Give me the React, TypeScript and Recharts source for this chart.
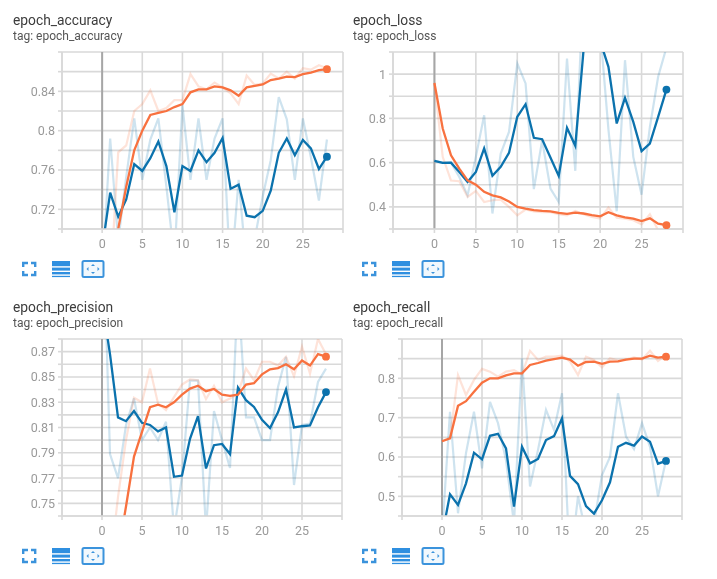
import React from "react";
import { LineChart, Line, XAxis, YAxis, CartesianGrid, ReferenceLine } from "recharts";

const epochs = [0,1,2,3,4,5,6,7,8,9,10,11,12,13,14,15,16,17,18,19,20,21,22,23,24,25,26,27,28];
const xTicks = [-5,0,5,10,15,20,25,30];
const BLUE = "#0b72ad";
const ORANGE = "#f8713f";

const accTrainSmooth = [0.62,0.66,0.70,0.743,0.78,0.80,0.816,0.818,0.82,0.824,0.827,0.839,0.842,0.842,0.845,0.844,0.841,0.8355,0.844,0.8455,0.847,0.8515,0.853,0.855,0.8545,0.8575,0.859,0.8615,0.8625];
const accTrainRaw = [0.62,0.64,0.778,0.785,0.82,0.827,0.841,0.82,0.823,0.831,0.831,0.8575,0.845,0.842,0.849,0.844,0.838,0.827,0.856,0.8465,0.848,0.858,0.853,0.86,0.853,0.8635,0.862,0.8665,0.8635];
const accValSmooth = [0.68,0.737,0.7125,0.73,0.766,0.759,0.772,0.789,0.764,0.717,0.764,0.759,0.78,0.768,0.7775,0.7925,0.741,0.745,0.7135,0.712,0.7185,0.739,0.7775,0.792,0.775,0.7905,0.782,0.761,0.7735];
const accValRaw = [0.65,0.792,0.688,0.753,0.8125,0.75,0.791,0.8125,0.743,0.67,0.826,0.75,0.8125,0.75,0.792,0.8125,0.65,0.75,0.66,0.69,0.733,0.77,0.834,0.8115,0.75,0.8125,0.773,0.729,0.791];

const lossTrainSmooth = [0.96,0.754,0.633,0.573,0.52,0.50,0.468,0.452,0.443,0.424,0.40,0.392,0.385,0.382,0.38,0.373,0.368,0.374,0.37,0.363,0.357,0.376,0.362,0.353,0.347,0.336,0.348,0.324,0.317];
const lossTrainRaw = [0.96,0.626,0.519,0.516,0.445,0.472,0.422,0.43,0.433,0.40,0.362,0.388,0.38,0.376,0.376,0.367,0.362,0.382,0.367,0.355,0.347,0.397,0.351,0.347,0.34,0.321,0.367,0.294,0.287];
const lossValSmooth = [0.608,0.599,0.60,0.558,0.513,0.558,0.664,0.541,0.581,0.644,0.807,0.864,0.712,0.706,0.623,0.54,0.757,0.676,1.11,1.2,1.15,1.033,0.777,0.893,0.784,0.652,0.686,0.807,0.93];
const lossValRaw = [0.608,0.60,0.60,0.535,0.452,0.626,0.814,0.37,0.641,0.739,1.048,0.958,0.48,0.70,0.483,0.422,1.07,0.563,1.42,1.3,1.2,0.75,0.38,1.063,0.626,0.455,0.76,0.988,1.12];

const precTrainSmooth = [0.66,0.68,0.71,0.7475,0.787,0.8066,0.826,0.828,0.826,0.83,0.836,0.8408,0.843,0.8387,0.8405,0.836,0.835,0.836,0.844,0.845,0.852,0.856,0.857,0.86,0.856,0.863,0.859,0.868,0.866];
const precTrainRaw = [0.6,0.70,0.755,0.80,0.8335,0.83,0.8566,0.829,0.8237,0.834,0.844,0.848,0.8474,0.8324,0.843,0.83,0.833,0.837,0.8566,0.8474,0.862,0.862,0.859,0.866,0.8505,0.874,0.8526,0.88,0.868];
const precValSmooth = [0.91,0.868,0.818,0.815,0.823,0.8137,0.812,0.807,0.81,0.771,0.772,0.801,0.819,0.7776,0.796,0.797,0.789,0.8416,0.8316,0.8263,0.816,0.8095,0.822,0.84,0.81,0.811,0.8116,0.826,0.838];
const precValRaw = [1.0,0.789,0.77,0.8118,0.833,0.80,0.81,0.80,0.8145,0.729,0.771,0.847,0.847,0.729,0.823,0.80,0.778,0.92,0.818,0.818,0.80,0.80,0.842,0.866,0.7645,0.812,0.813,0.846,0.8566];

const recTrainSmooth = [0.64,0.6475,0.73,0.742,0.766,0.789,0.80,0.80,0.8076,0.8127,0.8127,0.834,0.839,0.845,0.849,0.8525,0.8475,0.832,0.8415,0.8424,0.837,0.8424,0.843,0.8475,0.85,0.85,0.8576,0.8525,0.855];
const recTrainRaw = [0.64,0.6475,0.8085,0.7576,0.796,0.824,0.817,0.804,0.817,0.821,0.81,0.87,0.8466,0.855,0.855,0.8576,0.8424,0.8085,0.855,0.8466,0.828,0.851,0.845,0.848,0.853,0.848,0.87,0.844,0.859];
const recValSmooth = [0.40,0.505,0.478,0.533,0.611,0.594,0.654,0.659,0.622,0.4737,0.626,0.584,0.595,0.643,0.653,0.698,0.552,0.531,0.475,0.456,0.49,0.5356,0.626,0.636,0.629,0.652,0.639,0.583,0.59];
const recValRaw = [0.40,0.715,0.457,0.61,0.715,0.571,0.74,0.686,0.592,0.431,0.851,0.525,0.618,0.72,0.669,0.762,0.32,0.50,0.406,0.431,0.554,0.60,0.762,0.652,0.62,0.686,0.626,0.50,0.592];

const accYTicks = [0.70,0.72,0.74,0.76,0.78,0.80,0.82,0.84,0.86,0.88];
const accYLabels = [0.72,0.76,0.8,0.84];
const lossYTicks = [0.3,0.4,0.5,0.6,0.7,0.8,0.9,1.0,1.1];
const lossYLabels = [0.4,0.6,0.8,1];
const precYTicks = [0.74,0.75,0.76,0.77,0.78,0.79,0.80,0.81,0.82,0.83,0.84,0.85,0.86,0.87,0.88];
const precYLabels = [0.75,0.77,0.79,0.81,0.83,0.85,0.87];
const recYTicks = [0.45,0.5,0.55,0.6,0.65,0.7,0.75,0.8,0.85,0.9];
const recYLabels = [0.5,0.6,0.7,0.8];

type PanelProps = {
  title: string;
  left: number; top: number;
  plotLeft: number; plotRight: number; plotTop: number; plotBottom: number;
  domain: [number, number];
  yTicks: number[]; yLabels: number[];
  trainSmooth: number[]; trainRaw: number[]; valSmooth: number[]; valRaw: number[];
};

const FONT = "Roboto, sans-serif";

const endDot = (color: string) => (props: any) => {
  if (props.index !== epochs.length - 1) return <g key={props.index} />;
  return <circle key={props.index} cx={props.cx} cy={props.cy} r={3.9} fill={color} stroke="none" />;
};

const Icons = ({ x, y }: { x: number; y: number }) => (
  <svg width={90} height={20} style={{ position: "absolute", left: x, top: y }}>
    <path d="M1.2 6V2H6M9 2H13.2V6M13.2 10V14H9M6 14H1.2V10" transform="translate(0,1)" fill="none" stroke="#3b93dc" strokeWidth={2.4} />
    <g fill="#2f8fe0">
      <rect x={30} y={1} width={18} height={5.2} />
      <rect x={30} y={7.6} width={18} height={3} />
      <rect x={30} y={12} width={18} height={2.4} />
      <rect x={30} y={15.8} width={18} height={1.3} />
    </g>
    <rect x={60.5} y={1} width={21} height={16} rx={1.5} fill="#f1f8fd" stroke="#3b93dc" strokeWidth={2} />
    <path d="M71 4l2 2h-4zM71 14l-2-2h4zM64.5 9l2-2v4zM77.5 9l-2 2v-4z" fill="#3b93dc" />
  </svg>
);

const Panel = ({ title, left, top, plotLeft, plotRight, plotTop, plotBottom, domain, yTicks, yLabels, trainSmooth, trainRaw, valSmooth, valRaw }: PanelProps) => {
  const data = epochs.map((e, i) => ({ e, ts: trainSmooth[i], tr: trainRaw[i], vs: valSmooth[i], vr: valRaw[i] }));
  const cTop = plotTop - 4;
  const yw = plotLeft - left;
  const tickFmtX = (v: number) => (v === -5 || v === 30 ? "" : String(v));
  const tickFmtY = (v: number) => {
    const hit = yLabels.find((l) => Math.abs(l - v) < 1e-6);
    return hit === undefined ? "" : String(hit);
  };
  return (
    <>
      <div style={{ position: "absolute", left: left + 13, top: top + 12, fontFamily: FONT, fontSize: 13.8, color: "#3c3c3c", lineHeight: "16px", whiteSpace: "nowrap" }}>{title}</div>
      <div style={{ position: "absolute", left: left + 13, top: top + 29, fontFamily: FONT, fontSize: 12, color: "#555", lineHeight: "14px", whiteSpace: "nowrap" }}>{"tag: " + title}</div>
      <div style={{ position: "absolute", left, top: cTop }}>
        <LineChart
          width={plotRight - left + 6}
          height={plotBottom - cTop + 30}
          data={data}
          margin={{ top: plotTop - cTop, right: 6, bottom: 0, left: 0 }}
        >
          <CartesianGrid stroke="#d9d9d9" strokeWidth={1.6} horizontalValues={yTicks} verticalValues={xTicks} />
          <XAxis
            dataKey="e"
            type="number"
            domain={[-5, 30]}
            ticks={xTicks}
            interval={0}
            height={30}
            tickFormatter={tickFmtX}
            tick={{ fill: "#9a9a9a", fontSize: 12.5, fontFamily: FONT }}
            axisLine={{ stroke: "#d9d9d9", strokeWidth: 1.6 }}
            tickLine={{ stroke: "#d9d9d9", strokeWidth: 1.6 }}
            tickSize={4}
            tickMargin={6}
            allowDataOverflow
          />
          <YAxis
            type="number"
            domain={domain}
            ticks={yTicks}
            interval={0}
            width={yw}
            tickFormatter={tickFmtY}
            tick={{ fill: "#9a9a9a", fontSize: 12.5, fontFamily: FONT }}
            axisLine={{ stroke: "#d9d9d9", strokeWidth: 1.6 }}
            tickLine={{ stroke: "#d9d9d9", strokeWidth: 1.6 }}
            tickSize={4}
            tickMargin={3}
            allowDataOverflow
          />
          <ReferenceLine x={0} stroke="#a6a6a6" strokeWidth={2} />
          <Line dataKey="vr" stroke={BLUE} strokeOpacity={0.2} strokeWidth={2.2} dot={false} isAnimationActive={false} />
          <Line dataKey="tr" stroke={ORANGE} strokeOpacity={0.2} strokeWidth={2.2} dot={false} isAnimationActive={false} />
          <Line dataKey="vs" stroke={BLUE} strokeWidth={2.3} dot={endDot(BLUE)} activeDot={false} isAnimationActive={false} />
          <Line dataKey="ts" stroke={ORANGE} strokeWidth={2.3} dot={endDot(ORANGE)} activeDot={false} isAnimationActive={false} />
        </LineChart>
      </div>
      <Icons x={left + 22} y={plotBottom + 31} />
    </>
  );
};

export default function App() {
  return (
    <div style={{ position: "absolute", left: 0, top: 0, width: 717, height: 579, background: "#fff", overflow: "hidden", filter: "blur(0.35px)" }}>
      <Panel title="epoch_accuracy" left={0} top={0} plotLeft={62} plotRight={343} plotTop={52} plotBottom={229} domain={[0.70, 0.88]} yTicks={accYTicks} yLabels={accYLabels} trainSmooth={accTrainSmooth} trainRaw={accTrainRaw} valSmooth={accValSmooth} valRaw={accValRaw} />
      <Panel title="epoch_loss" left={340} top={0} plotLeft={393} plotRight={683} plotTop={52} plotBottom={229} domain={[0.3, 1.1]} yTicks={lossYTicks} yLabels={lossYLabels} trainSmooth={lossTrainSmooth} trainRaw={lossTrainRaw} valSmooth={lossValSmooth} valRaw={lossValRaw} />
      <Panel title="epoch_precision" left={0} top={287} plotLeft={62} plotRight={342} plotTop={339} plotBottom={516} domain={[0.74, 0.88]} yTicks={precYTicks} yLabels={precYLabels} trainSmooth={precTrainSmooth} trainRaw={precTrainRaw} valSmooth={precValSmooth} valRaw={precValRaw} />
      <Panel title="epoch_recall" left={340} top={287} plotLeft={402} plotRight={682} plotTop={339} plotBottom={516} domain={[0.45, 0.9]} yTicks={recYTicks} yLabels={recYLabels} trainSmooth={recTrainSmooth} trainRaw={recTrainRaw} valSmooth={recValSmooth} valRaw={recValRaw} />
    </div>
  );
}
